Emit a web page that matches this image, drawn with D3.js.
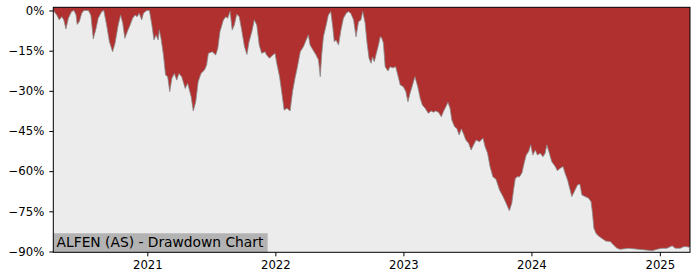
<!DOCTYPE html>
<html>
<head>
<meta charset="utf-8">
<script src="https://cdn.jsdelivr.net/npm/d3@7"></script>
<style>
  body { margin: 0; background: #fff; }
  svg { display: block; }
  text { font-family: "DejaVu Sans", sans-serif; }
</style>
</head>
<body>
<svg id="svg"></svg>
<script>
// drawdown readings (percent below previous peak)
const dates = [
  "2020-04-08","2020-04-18","2020-04-25","2020-05-02","2020-05-08","2020-05-14","2020-05-21","2020-05-30","2020-06-06","2020-06-12",
  "2020-06-15","2020-06-21","2020-06-28","2020-07-04","2020-07-17","2020-07-24","2020-07-31","2020-08-08","2020-08-14","2020-08-24",
  "2020-08-30","2020-09-07","2020-09-15","2020-09-24","2020-10-01","2020-10-10","2020-10-17","2020-10-23","2020-10-29","2020-11-05",
  "2020-11-13","2020-11-20","2020-11-27","2020-12-03","2020-12-09","2020-12-16","2020-12-21","2020-12-30",
  "2021-01-07","2021-01-14","2021-01-20","2021-01-26","2021-02-01","2021-02-04","2021-02-09","2021-02-16","2021-02-22","2021-02-28",
  "2021-03-06","2021-03-12","2021-03-19","2021-03-26","2021-04-01","2021-04-09","2021-04-19","2021-04-26","2021-05-06","2021-05-12",
  "2021-05-19","2021-05-26","2021-06-03","2021-06-13","2021-06-19","2021-06-24","2021-07-05","2021-07-15","2021-07-21","2021-07-27",
  "2021-08-06","2021-08-13","2021-08-18","2021-08-25","2021-08-31","2021-09-06","2021-09-13","2021-09-20","2021-09-27","2021-10-05",
  "2021-10-12","2021-10-18","2021-10-26","2021-11-02","2021-11-09","2021-11-16","2021-11-23","2021-12-03","2021-12-06","2021-12-15",
  "2021-12-25","2021-12-31",
  "2022-01-05","2022-01-13","2022-01-19","2022-01-26","2022-02-03","2022-02-12","2022-02-19","2022-02-26","2022-03-05","2022-03-13",
  "2022-03-22","2022-03-30","2022-04-05","2022-04-10","2022-04-18","2022-04-27","2022-05-04","2022-05-09","2022-05-13","2022-05-18",
  "2022-05-26","2022-06-01","2022-06-08","2022-06-14","2022-06-18","2022-06-23","2022-06-30","2022-07-07","2022-07-14","2022-07-22",
  "2022-07-28","2022-08-04","2022-08-12","2022-08-19","2022-08-26","2022-09-02","2022-09-07","2022-09-14","2022-09-19","2022-09-25",
  "2022-10-01","2022-10-05","2022-10-10","2022-10-17","2022-10-22","2022-10-27","2022-10-31","2022-11-05","2022-11-10","2022-11-18",
  "2022-11-24","2022-12-01","2022-12-10","2022-12-16","2022-12-23",
  "2023-01-01","2023-01-08","2023-01-14","2023-01-20","2023-01-27","2023-02-03","2023-02-11","2023-02-18","2023-02-24","2023-03-04",
  "2023-03-13","2023-03-21","2023-03-28","2023-04-03","2023-04-11","2023-04-19","2023-04-25","2023-05-02","2023-05-08","2023-05-14",
  "2023-05-19","2023-05-27","2023-06-02","2023-06-09","2023-06-15","2023-06-21","2023-06-28","2023-07-06","2023-07-13","2023-07-20",
  "2023-07-27","2023-08-06","2023-08-16","2023-08-22","2023-08-29","2023-09-05","2023-09-13","2023-09-22","2023-10-02","2023-10-12",
  "2023-10-21","2023-10-30","2023-11-06","2023-11-11","2023-11-16","2023-11-21","2023-11-28","2023-12-05","2023-12-11","2023-12-17",
  "2023-12-24","2023-12-30",
  "2024-01-05","2024-01-12","2024-01-18","2024-01-26","2024-02-03","2024-02-09","2024-02-14","2024-02-21","2024-02-28","2024-03-09",
  "2024-03-15","2024-03-23","2024-03-31","2024-04-06","2024-04-13","2024-04-19","2024-04-25","2024-05-02","2024-05-11","2024-05-18",
  "2024-05-24","2024-06-02","2024-06-12","2024-06-19","2024-06-23","2024-06-27","2024-07-03","2024-07-10","2024-07-20","2024-07-31",
  "2024-08-13","2024-08-22","2024-09-01","2024-09-10","2024-10-04","2024-11-01","2024-11-20","2024-12-10","2024-12-24",
  "2025-01-07","2025-01-21","2025-02-05","2025-02-14","2025-02-28","2025-03-10","2025-03-19","2025-03-24","2025-03-28"
];

const drawdown = [
  0, -1.7, -3.5, -2.3, -3.5, -6.9, -2.9, -0.4, 0, -1.7,
  -5.2, -4.2, -1.0, 0, 0, -1.7, -10.6, -6.6, -2.9, -0.4,
  0, -5.4, -11.7, -15.4, -12.2, -5.4, -1.7, -4.8, -10.4, -7.9,
  -5.4, -2.9, -1.7, -2.3, -1.0, -3.5, -1.0, 0,
  0, -5.4, -11.0, -9.1, -11.0, -7.3, -10.4, -16.6, -24.1, -24.7,
  -30.3, -25.3, -23.5, -26.0, -23.5, -24.7, -29.1, -27.2, -32.2, -37.5,
  -34.1, -26.6, -23.5, -22.2, -20.4, -16.0, -15.4, -16.6, -14.1, -7.9,
  -3.5, -2.3, -2.9, -0.4, -7.3, -5.4, -1.4, -2.3, -7.3, -13.5,
  -16.4, -11.7, -7.9, -3.5, -5.4, -12.9, -16.0, -15.4, -16.4, -17.8,
  -16.6, -16.0,
  -19.7, -24.7, -30.3, -37.2, -36.5, -37.5, -30.3, -25.3, -21.0, -15.4,
  -13.5, -11.0, -9.1, -12.9, -14.7, -16.6, -18.5, -24.7, -16.6, -9.8,
  -5.4, -1.7, -0.4, -6.6, -11.7, -11.0, -12.9, -7.3, -2.9, -1.0,
  -0.4, -1.0, -3.5, -9.8, -4.2, -3.5, -0.4, -4.8, -11.7, -17.8,
  -19.7, -17.3, -19.1, -15.4, -12.9, -9.8, -10.2, -12.2, -21.0, -22.6,
  -21.0, -21.4, -21.0, -24.1, -27.8,
  -28.5, -30.3, -34.1, -30.9, -27.8, -24.7, -28.5, -32.8, -35.3, -36.5,
  -38.4, -37.5, -38.0, -37.5, -38.0, -39.7, -37.8, -35.9, -34.3, -36.5,
  -40.9, -43.4, -44.0, -46.5, -44.2, -45.9, -48.4, -49.6, -52.1, -50.2,
  -48.4, -49.0, -47.7, -50.9, -53.3, -58.3, -62.1, -63.0, -67.0, -69.5,
  -72.0, -74.8, -72.0, -67.0, -62.7, -62.1, -62.1, -60.6, -57.1, -54.0,
  -52.7, -50.2,
  -54.0, -52.1, -54.0, -53.3, -54.6, -53.3, -50.2, -53.3, -56.5, -58.3,
  -59.8, -58.9, -58.3, -60.8, -63.3, -66.4, -69.5, -67.7, -65.2, -64.8,
  -68.9, -69.5, -70.1, -71.4, -75.7, -81.3, -83.2, -84.2, -85.1, -86.1,
  -86.3, -87.6, -88.8, -89.2, -88.8, -89.2, -89.4, -89.7, -89.2,
  -88.8, -88.8, -87.9, -88.8, -88.8, -88.2, -88.2, -88.4, -88.0
];

const yTicks = [0, -15, -30, -45, -60, -75, -90];
const xTicks = ["2021-01-01", "2022-01-01", "2023-01-01", "2024-01-01", "2025-01-01"];
const chartLabel = "ALFEN (AS) - Drawdown Chart";

const width = 700;
const height = 280;
const margin = { top: 7.3, right: 10, bottom: 27.7, left: 53.3 };

let svg = d3.select("#svg")
  .attr("width", width)
  .attr("height", height);

const parse = d3.timeParse("%Y-%m-%d");
const data = dates.map((d, i) => ({ date: parse(d), value: drawdown[i] }));

let x = d3.scaleTime()
  .domain(d3.extent(data, d => d.date))
  .range([margin.left, width - margin.right]);

let y = d3.scaleLinear()
  .domain([-90.3, 1.2])
  .range([height - margin.bottom, margin.top]);

// plot background
svg.append("rect")
  .attr("x", margin.left)
  .attr("y", margin.top)
  .attr("width", width - margin.left - margin.right)
  .attr("height", height - margin.top - margin.bottom)
  .attr("fill", "#ececec");

// red fill from the top of the axes down to the drawdown curve
let area = d3.area()
  .x(d => x(d.date))
  .y0(margin.top)
  .y1(d => y(d.value));

svg.append("path")
  .datum(data)
  .attr("d", area)
  .attr("fill", "#b03030");

svg.append("path")
  .datum(data)
  .attr("d", d3.line().x(d => x(d.date)).y(d => y(d.value)))
  .attr("fill", "none")
  .attr("stroke", "#8a8a8a")
  .attr("stroke-width", 0.8);

// label box
let label = svg.append("g");
let labelText = label.append("text")
  .attr("x", margin.left + 3.3)
  .attr("y", height - margin.bottom - 5.2)
  .style("font-size", "13.8px")
  .attr("fill", "#000")
  .text(chartLabel);
let bb = labelText.node().getBBox();
label.insert("rect", "text")
  .attr("x", margin.left)
  .attr("y", height - margin.bottom - 19)
  .attr("width", bb.width + 7)
  .attr("height", 19)
  .attr("fill", "#b3b3b3");

// frame
svg.append("rect")
  .attr("x", margin.left)
  .attr("y", margin.top)
  .attr("width", width - margin.left - margin.right)
  .attr("height", height - margin.top - margin.bottom)
  .attr("fill", "none")
  .attr("stroke", "#000")
  .attr("stroke-width", 1);

// axes
let xAxis = svg.append("g")
  .attr("transform", `translate(0,${height - margin.bottom})`)
  .call(d3.axisBottom(x)
    .tickValues(xTicks.map(parse))
    .tickFormat(d3.timeFormat("%Y"))
    .tickSize(4)
    .tickPadding(4));

let yAxis = svg.append("g")
  .attr("transform", `translate(${margin.left},0)`)
  .call(d3.axisLeft(y)
    .tickValues(yTicks)
    .tickFormat(d => (d < 0 ? "\u2212" : "") + Math.abs(d) + "%")
    .tickSize(4)
    .tickPadding(5));

for (let ax of [xAxis, yAxis]) {
  ax.select(".domain").remove();
  ax.selectAll("text")
    .style("font-family", "DejaVu Sans, sans-serif")
    .style("font-size", "11.7px")
    .attr("fill", "#000");
  ax.selectAll("line").attr("stroke", "#000");
}
</script>
</body>
</html>
